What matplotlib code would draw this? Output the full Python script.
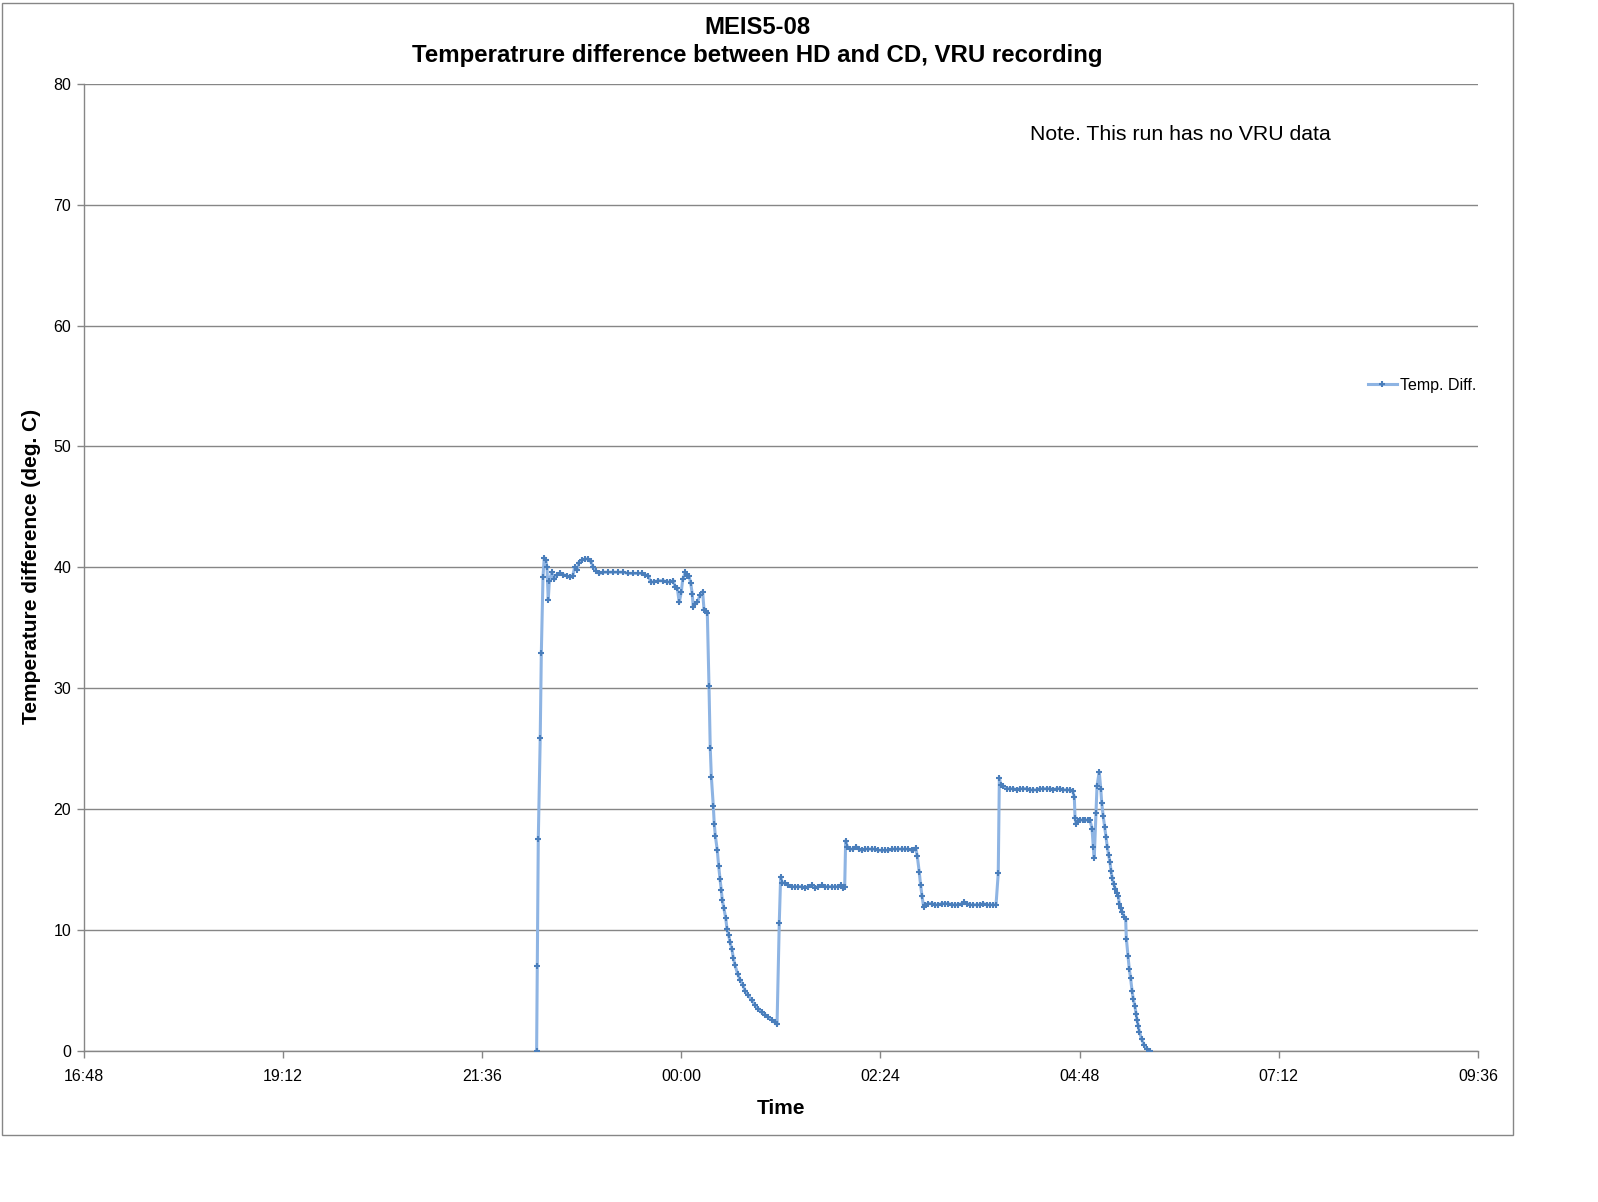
import numpy as np
import matplotlib
matplotlib.use("Agg")
import matplotlib.pyplot as plt
from matplotlib.ticker import FuncFormatter, MultipleLocator
from matplotlib.patches import Rectangle

plt.rcParams['font.family'] = ['Liberation Sans', 'DejaVu Sans']

# Recording times, minutes after 22:00
t_min = [
    15.5, 16.0, 16.7, 18.1, 18.9, 20.1, 21.0, 22.1, 23.0, 23.9,
    24.7, 26.4, 28.3, 30.0, 32.4, 34.8, 37.2, 39.6, 41.6, 43.0,
    44.9, 45.9, 48.1, 50.5, 52.8, 54.6, 56.5, 58.4, 60.8, 63.7,
    67.3, 70.9, 74.5, 78.1, 81.8, 85.4, 89.0, 91.4, 93.8, 96.2,
    98.0, 100.3, 103.4, 107.1, 109.5, 111.9, 114.3, 115.5, 117.2, 118.6,
    120.1, 121.1, 123.0, 124.4, 125.6, 126.9, 128.0, 128.7, 130.2, 131.6,
    133.6, 135.5, 136.5, 137.9, 138.9, 140.1, 141.0, 141.8, 143.2, 143.9,
    144.7, 146.1, 147.1, 148.1, 149.0, 149.7, 150.9, 152.2, 153.1, 154.3,
    155.3, 156.7, 157.7, 158.9, 160.8, 162.5, 164.5, 166.1, 168.5, 171.0,
    173.4, 175.7, 178.2, 180.6, 183.0, 185.4, 187.5, 189.3, 190.9, 191.9,
    193.1, 195.0, 197.4, 199.9, 202.3, 204.7, 207.1, 209.5, 211.9, 214.3,
    216.7, 219.1, 221.6, 224.0, 226.3, 228.8, 231.2, 233.6, 235.3, 237.2,
    238.2, 238.9, 240.1, 242.0, 244.4, 246.4, 248.3, 250.5, 252.9, 255.3,
    257.7, 260.1, 262.5, 264.9, 267.3, 269.7, 272.2, 274.6, 276.9, 279.4,
    281.8, 284.2, 286.6, 287.8, 289.5, 290.7, 292.1, 293.1, 294.1, 295.3,
    296.5, 298.6, 301.1, 303.5, 305.9, 308.3, 310.7, 313.1, 315.5, 317.9,
    320.3, 322.8, 324.7, 326.4, 328.8, 331.2, 333.6, 336.0, 338.4, 340.8,
    343.2, 345.6, 347.6, 349.2, 350.0, 351.0, 352.9, 355.3, 357.7, 360.1,
    362.5, 364.9, 367.3, 369.8, 372.1, 374.5, 377.0, 379.4, 381.8, 384.2,
    386.6, 389.0, 391.4, 393.8, 396.2, 398.7, 401.1, 403.0, 404.2, 404.7,
    405.4, 406.6, 408.3, 410.2, 412.1, 414.1, 415.5, 417.0, 417.9, 418.6,
    419.9, 420.6, 422.2, 423.3, 424.0, 425.1, 426.2, 427.1, 428.0, 429.0,
    430.0, 430.7, 431.6, 432.7, 433.8, 435.0, 436.0, 436.7, 437.7, 438.9,
    440.3, 441.3, 441.8, 443.0, 443.9, 444.9, 445.9, 446.8, 448.0, 448.8,
    449.5, 450.4, 451.2, 452.8, 454.6, 456.7, 458.9,
]

# Temperature difference HD - CD (deg. C)
temp_diff = [
    0.0, 7.0, 17.5, 25.9, 32.9, 39.2, 40.8, 40.6, 40.0, 37.3,
    38.9, 39.6, 39.0, 39.4, 39.5, 39.4, 39.3, 39.2, 39.3, 40.0,
    39.8, 40.4, 40.6, 40.7, 40.7, 40.5, 40.0, 39.7, 39.5, 39.6,
    39.6, 39.6, 39.6, 39.6, 39.5, 39.5, 39.5, 39.5, 39.4, 39.3,
    38.8, 38.8, 38.9, 38.9, 38.8, 38.8, 38.9, 38.4, 38.3, 37.1,
    38.0, 39.0, 39.6, 39.3, 39.3, 38.7, 37.8, 36.7, 37.0, 37.1,
    37.7, 38.0, 36.5, 36.4, 36.2, 30.2, 25.1, 22.7, 20.3, 18.8,
    17.8, 16.6, 15.3, 14.2, 13.3, 12.5, 11.8, 11.0, 10.1, 9.6,
    9.0, 8.4, 7.7, 7.1, 6.4, 5.9, 5.5, 5.0, 4.6, 4.2,
    3.8, 3.5, 3.2, 3.0, 2.8, 2.6, 2.4, 2.2, 10.6, 14.4,
    13.9, 13.9, 13.7, 13.6, 13.6, 13.6, 13.6, 13.5, 13.6, 13.7,
    13.5, 13.6, 13.7, 13.6, 13.6, 13.6, 13.6, 13.6, 13.7, 13.5,
    13.6, 17.4, 16.9, 16.7, 16.7, 16.9, 16.7, 16.6, 16.7, 16.7,
    16.7, 16.7, 16.6, 16.6, 16.6, 16.6, 16.7, 16.7, 16.7, 16.7,
    16.7, 16.7, 16.6, 16.6, 16.8, 16.1, 14.8, 13.7, 12.8, 11.9,
    12.1, 12.2, 12.2, 12.1, 12.1, 12.2, 12.2, 12.2, 12.1, 12.1,
    12.1, 12.2, 12.3, 12.2, 12.1, 12.1, 12.1, 12.1, 12.2, 12.1,
    12.1, 12.1, 12.1, 14.7, 22.6, 22.0, 21.9, 21.7, 21.7, 21.7,
    21.6, 21.7, 21.7, 21.7, 21.6, 21.6, 21.6, 21.7, 21.7, 21.7,
    21.7, 21.6, 21.7, 21.7, 21.6, 21.6, 21.6, 21.5, 21.0, 19.3,
    18.8, 19.0, 19.1, 19.1, 19.1, 19.1, 19.1, 18.4, 16.9, 16.0,
    19.7, 21.9, 23.1, 21.7, 20.5, 19.4, 18.5, 17.7, 16.9, 16.2,
    15.6, 14.9, 14.3, 13.8, 13.4, 13.1, 12.8, 12.2, 11.8, 11.5,
    11.1, 10.9, 9.3, 7.9, 6.8, 6.0, 5.0, 4.3, 3.7, 3.1,
    2.6, 2.1, 1.6, 1.0, 0.5, 0.2, 0.0,
]

# hours since midnight of the first day
hours = 22 + np.array(t_min) / 60.0


def hhmm(x, pos):
    total = int(round(x * 60)) % (24 * 60)
    return f"{total // 60:02d}:{total % 60:02d}"


grey = '#868686'

fig = plt.figure(figsize=(15.98, 12.02), dpi=100)
ax = fig.add_axes([0.0523, 0.1256, 0.8726, 0.8047])

ax.plot(hours, temp_diff, color='#8EB4E3', lw=2.2, marker='+', ms=5,
        mew=1.5, mec='#4A7EBB', label='Temp. Diff.', zorder=3)

ax.set_xlim(16.8, 33.6)
ax.set_ylim(0, 80)
ax.xaxis.set_major_locator(MultipleLocator(2.4))
ax.xaxis.set_major_formatter(FuncFormatter(hhmm))
ax.yaxis.set_major_locator(MultipleLocator(10))
ax.grid(axis='y', color=grey, lw=1)
ax.set_axisbelow(True)

for side in ['top', 'right']:
    ax.spines[side].set_visible(False)
for side in ['left', 'bottom']:
    ax.spines[side].set_color(grey)
    ax.spines[side].set_linewidth(1)

ax.tick_params(axis='both', direction='out', length=5, width=1, color=grey,
               labelsize=11.5, labelcolor='black')
ax.tick_params(axis='x', pad=8)
ax.tick_params(axis='y', pad=4)

# outer chart border
fig.add_artist(Rectangle((0.00125, 0.0557), 0.9455, 0.9422, transform=fig.transFigure,
                         fill=False, ec=grey, lw=1))

fig.text(0.4737, 0.9768, 'MEIS5-08', ha='center', va='center',
         fontsize=17.2, fontweight='bold')
fig.text(0.4737, 0.954, 'Temperatrure difference between HD and CD, VRU recording',
         ha='center', va='center', fontsize=17.3, fontweight='bold')
fig.text(0.0194, 0.5285, 'Temperature difference (deg. C)', rotation=90,
         ha='center', va='center', fontsize=15, fontweight='bold')
fig.text(0.489, 0.0782, 'Time', ha='center', va='center', fontsize=15, fontweight='bold')
fig.text(0.7385, 0.8877, 'Note. This run has no VRU data', ha='center', va='center',
         fontsize=15.3)

ax.legend(loc='center left', bbox_to_anchor=(0.856, 0.6797), bbox_transform=fig.transFigure,
          frameon=False, fontsize=11.5, handlelength=1.8, handletextpad=0.2,
          borderpad=0, borderaxespad=0)

fig.savefig('out.png', dpi=100)
plt.close(fig)
